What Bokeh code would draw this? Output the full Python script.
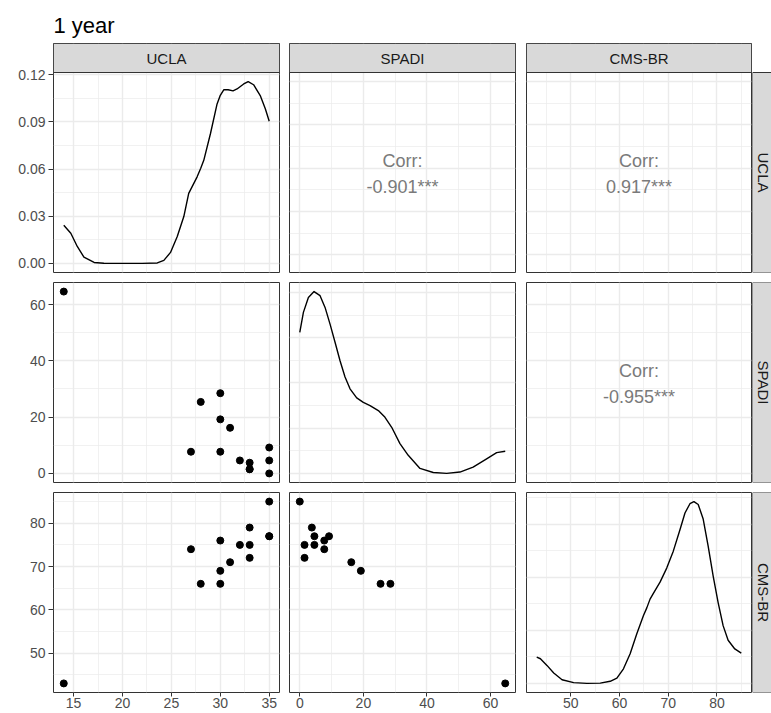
import math
from bokeh.plotting import figure
from bokeh.layouts import gridplot
from bokeh.models import Range1d, FixedTicker, Label, LinearAxis, PrintfTickFormatter, BoxAnnotation
from bokeh.embed import file_html
from bokeh.resources import INLINE

# ---------------- data ----------------
title_text = "1 year"
variables = ["UCLA", "SPADI", "CMS-BR"]

ucla = [14, 27, 28, 30, 30, 30, 31, 32, 33, 33, 33, 35, 35, 35]
spadi = [64.6, 7.7, 25.4, 28.5, 19.2, 7.7, 16.2, 4.6, 3.8, 1.5, 1.5, 9.2, 4.6, 0.0]
cms = [43, 74, 66, 66, 69, 76, 71, 75, 79, 75, 72, 77, 77, 85]

corr_pairs = [(0, 1), (0, 2), (1, 2)]
corr_text = ["-0.901***", "0.917***", "-0.955***"]

ucla_dens_x = [14, 14.72, 15.38, 16.06, 17.1, 18.1, 20, 22, 23.56, 24.23, 24.91, 25.6, 26.27,
               26.77, 27.63, 28.0, 28.31, 28.99, 29.67, 30.0, 30.35, 30.8, 31.3, 31.71, 32.39,
               32.85, 33.4, 34.08, 34.6, 35]
ucla_dens_y = [0.0243, 0.0192, 0.0108, 0.0040, 0.0006, 0.0001, 0.0, 0.0, 0.0003, 0.0019, 0.0070,
               0.0171, 0.0298, 0.0446, 0.0551, 0.0605, 0.0656, 0.0825, 0.1015, 0.1070, 0.1105,
               0.1105, 0.1098, 0.1110, 0.1142, 0.1157, 0.1137, 0.1068, 0.0984, 0.0905]

spadi_dens_x = [0, 1.14, 2.71, 4.49, 6.38, 7.95, 9.52, 11.09, 12.66, 14.23, 15.8, 17.9, 19.98,
                22.09, 24.7, 26.8, 28.9, 31.5, 34.1, 37.8, 41.97, 46.2, 50.36, 54.5, 58.75,
                61.9, 64.6]
spadi_dens_y = [0.0312, 0.0356, 0.0389, 0.0402, 0.0393, 0.0367, 0.0330, 0.0290, 0.0249, 0.0213,
                0.0187, 0.0167, 0.0157, 0.0150, 0.0139, 0.0124, 0.0102, 0.0066, 0.0040, 0.0011,
                0.0002, 0.0, 0.0003, 0.0014, 0.0032, 0.0046, 0.0049]

cms_dens_x = [43, 43.76, 45.1, 46.49, 48.2, 50.58, 53.3, 56.04, 58.09, 59.46, 60.81, 62.18, 63.55,
              64.9, 65.6, 66.27, 66.95, 68.32, 69.69, 71.04, 72.41, 73.44, 74.46, 75.28, 76.16,
              77.18, 78.2, 79.23, 80.25, 81.27, 82.3, 83.67, 85]
cms_dens_y = [0.0099, 0.0093, 0.0068, 0.0039, 0.0014, 0.0003, 0.0, 0.0001, 0.0008, 0.0020, 0.0055,
              0.0112, 0.0187, 0.0255, 0.0285, 0.0318, 0.0340, 0.0382, 0.0435, 0.0499, 0.0580,
              0.0643, 0.0678, 0.0686, 0.0675, 0.0620, 0.0518, 0.0405, 0.0305, 0.0218, 0.0163,
              0.0130, 0.0114]

ucla_ticks = [15, 20, 25, 30, 35]
ucla_minor = [17.5, 22.5, 27.5, 32.5]
spadi_ticks = [0, 20, 40, 60]
spadi_minor = [10, 30, 50]
cms_ticks = [50, 60, 70, 80]
cms_minor = [45, 55, 65, 75, 85]
ucla_dens_ticks = [0, 0.03, 0.06, 0.09, 0.12]
ucla_dens_minor = [0.015, 0.045, 0.075, 0.105]
spadi_dens_ticks = [0, 0.01, 0.02, 0.03, 0.04]
spadi_dens_minor = [0.005, 0.015, 0.025, 0.035]
cms_dens_ticks = [0, 0.02, 0.04, 0.06]
cms_dens_minor = [0.01, 0.03, 0.05, 0.07]

values = [ucla, spadi, cms]
dens_x = [ucla_dens_x, spadi_dens_x, cms_dens_x]
dens_y = [ucla_dens_y, spadi_dens_y, cms_dens_y]
var_ticks = [(ucla_ticks, ucla_minor), (spadi_ticks, spadi_minor), (cms_ticks, cms_minor)]
dens_ticks = [(ucla_dens_ticks, ucla_dens_minor), (spadi_dens_ticks, spadi_dens_minor),
              (cms_dens_ticks, cms_dens_minor)]

# ---------------- style ----------------
FONT = "Liberation Sans"
BORDER = "#333333"
GRID = "#EBEBEB"
STRIP_FILL = "#D9D9D9"
STRIP_TEXT = "#1A1A1A"
TICK_TEXT = "#4D4D4D"
CORR_TEXT = "#7A7A7A"

col_left = [53, 5, 5]
col_right = [5, 6, 1]
col_frame = [226, 226, 225]
row_top = [43, 5, 5]
row_bottom = [5, 5, 21]
row_frame = [200, 200, 200]
strip_h = 29          # height of the top strips (inside the first row's frames)
strip_w = 19          # visible width of the right strips


def expand(vals):
    lo, hi = min(vals), max(vals)
    d = (hi - lo) * 0.05
    return (lo - d, hi + d)


def base_fig(w, h, xr, yr, l, r, t, b):
    p = figure(width=w, height=h, x_range=Range1d(*xr), y_range=Range1d(*yr),
               output_backend="svg", toolbar_location=None,
               x_axis_location=None, y_axis_location=None,
               min_border_left=l, min_border_right=r, min_border_top=t, min_border_bottom=b)
    p.background_fill_color = "white"
    p.border_fill_color = "white"
    p.outline_line_color = BORDER
    p.outline_line_width = 1
    return p


def set_grid(p, xt, yt):
    p.xgrid.ticker = FixedTicker(ticks=xt[0], minor_ticks=xt[1])
    p.ygrid.ticker = FixedTicker(ticks=yt[0], minor_ticks=yt[1])
    for g in (p.xgrid, p.ygrid):
        g.grid_line_color = GRID
        g.grid_line_width = 1.4
        g.minor_grid_line_color = GRID
        g.minor_grid_line_width = 0.7


def style_axis(ax, size):
    ax.axis_line_color = None
    ax.major_tick_line_color = BORDER
    ax.major_tick_in = 0
    ax.minor_tick_line_color = None
    ax.major_label_text_font = FONT
    ax.major_label_text_font_size = size
    ax.major_label_text_color = TICK_TEXT


var_ranges = [expand(v) for v in values]
dens_ranges = [expand(d) for d in dens_y]

grid_rows = []
for r in range(3):
    row_figs = []
    extra = strip_h if r == 0 else 0
    h = row_top[r] + row_frame[r] + extra + row_bottom[r]
    for c in range(3):
        w = col_left[c] + col_frame[c] + col_right[c]
        xr = var_ranges[c]
        yr = dens_ranges[c] if r == c else var_ranges[r]
        span = yr[1] - yr[0]
        yr_shown = (yr[0], yr[1] + span * extra / row_frame[r])
        p = base_fig(w, h, xr, yr_shown, col_left[c], col_right[c], row_top[r], row_bottom[r])
        set_grid(p, var_ticks[c], dens_ticks[c] if r == c else var_ticks[r])
        if r == c:
            p.line(dens_x[c], dens_y[c], line_color="black", line_width=1.4, line_join="round")
        elif r > c:
            p.scatter(values[c], values[r], size=7, color="black")
        else:
            txt = corr_text[corr_pairs.index((r, c))]
            xm = (xr[0] + xr[1]) / 2
            ym = (yr[0] + yr[1]) / 2
            p.add_layout(Label(x=xm, y=ym, y_offset=12, text="Corr:", text_align="center",
                               text_baseline="middle", text_font=FONT, text_font_size="18px",
                               text_color=CORR_TEXT))
            p.add_layout(Label(x=xm, y=ym, y_offset=-14, text=txt, text_align="center",
                               text_baseline="middle", text_font=FONT, text_font_size="18px",
                               text_color=CORR_TEXT))
        if r == 0:
            # strip with the column's variable name on top of the first row
            p.add_layout(BoxAnnotation(bottom=yr[1], fill_color=STRIP_FILL, fill_alpha=1.0,
                                       line_color=BORDER, line_width=1, line_alpha=1.0))
            p.add_layout(Label(x=(xr[0] + xr[1]) / 2, y=(yr[1] + yr_shown[1]) / 2,
                               text=variables[c], text_align="center", text_baseline="middle",
                               text_font=FONT, text_font_size="15px", text_color=STRIP_TEXT))
            if c == 0:
                p.title.text = title_text
                p.title.align = "left"
                p.title.text_font = FONT
                p.title.text_font_size = "22px"
                p.title.text_font_style = "normal"
                p.title.text_color = "black"
                p.title.standoff = 11
        if c == 0:
            if r == 0:
                ax = LinearAxis(ticker=FixedTicker(ticks=dens_ticks[0][0]),
                                formatter=PrintfTickFormatter(format="%.2f"))
            else:
                ax = LinearAxis(ticker=FixedTicker(ticks=var_ticks[r][0]))
            style_axis(ax, "14px")
            ax.major_tick_out = 5
            ax.major_label_standoff = 3
            p.add_layout(ax, "left")
        if r == 2:
            ax = LinearAxis(ticker=FixedTicker(ticks=var_ticks[c][0]))
            style_axis(ax, "14px")
            ax.major_tick_out = 4
            ax.major_label_standoff = 1
            p.add_layout(ax, "below")
        row_figs.append(p)
    # right strip with the row's variable name (frame aligned with the row's panels)
    s = base_fig(strip_w, h, (0, 1), (0, (row_frame[r] + extra) / row_frame[r]),
                 0, 0, row_top[r], row_bottom[r])
    s.outline_line_color = None
    s.xgrid.visible = False
    s.ygrid.visible = False
    s.add_layout(BoxAnnotation(top=1, fill_color=STRIP_FILL, fill_alpha=1.0,
                               line_color=BORDER, line_width=1, line_alpha=1.0))
    s.add_layout(Label(x=0.5, y=0.5, x_offset=1.5, text=variables[r], text_align="center",
                       text_baseline="middle", angle=-math.pi / 2, text_font=FONT,
                       text_font_size="15px", text_color=STRIP_TEXT))
    row_figs.append(s)
    grid_rows.append(row_figs)

layout = gridplot(grid_rows, toolbar_location=None)

open("out.html", "w").write(file_html(layout, INLINE))
